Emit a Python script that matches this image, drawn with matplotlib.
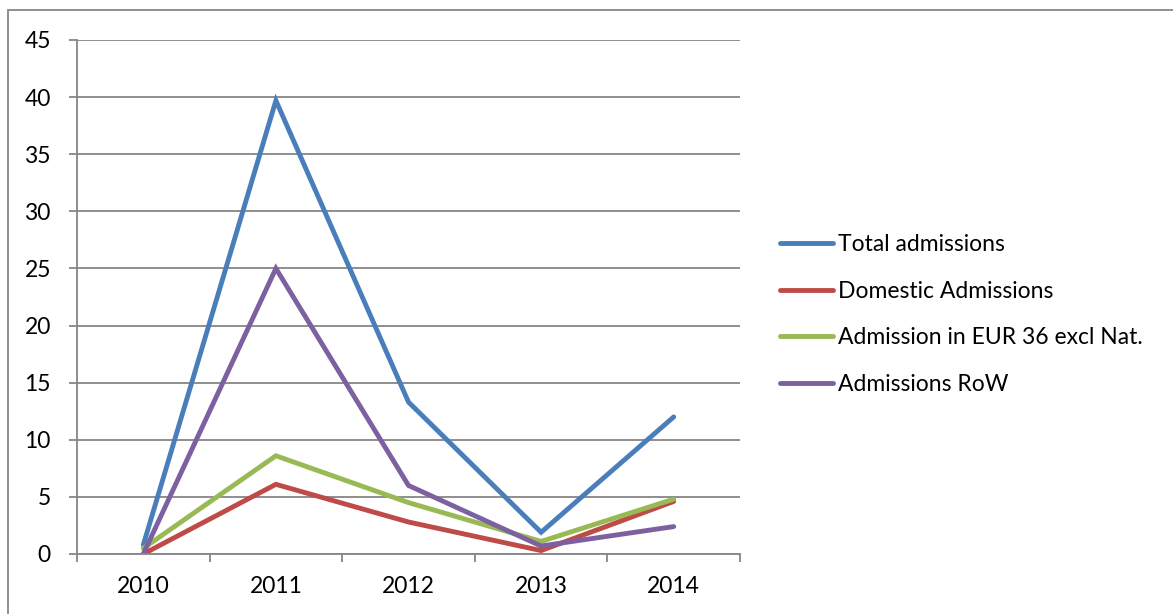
import matplotlib.pyplot as plt
from matplotlib.patches import Rectangle
import numpy as np

# Data
years = ['2010', '2011', '2012', '2013', '2014']
total_admissions = [0.8, 39.7, 13.3, 1.9, 12.0]
domestic_admissions = [0.0, 6.1, 2.8, 0.3, 4.6]
eur36_admissions = [0.5, 8.6, 4.5, 1.1, 4.8]
row_admissions = [0.0, 25.0, 6.0, 0.7, 2.4]

series_labels = ['Total admissions', 'Domestic Admissions',
                 'Admission in EUR 36 excl Nat.', 'Admissions RoW']
series_colors = ['#4A7EBB', '#BE4B48', '#98B954', '#7D60A0']

plt.rcParams['font.family'] = ['Lato', 'DejaVu Sans']
grey = '#868686'
fsize = 16.5

fig = plt.figure(figsize=(11.73, 6.14), dpi=100)
ax = fig.add_axes([77 / 1173, 60 / 614, 663 / 1173, 514 / 614])

x = np.arange(len(years))
for values, label, color in zip(
        [total_admissions, domestic_admissions, eur36_admissions, row_admissions],
        series_labels, series_colors):
    ax.plot(x, values, color=color, linewidth=3.5, label=label,
            solid_joinstyle='miter', solid_capstyle='round')

# Axis limits and ticks (Excel style category axis)
ax.set_xlim(-0.5, len(years) - 0.5)
ax.set_ylim(0, 45)
ax.set_yticks(np.arange(0, 46, 5))
ax.set_xticks(np.arange(-0.5, len(years), 1.0))
ax.set_xticklabels([])
ax.set_xticks(x, minor=True)
ax.set_xticklabels(years, minor=True)

ax.grid(axis='y', color=grey, linewidth=1.3)
ax.set_axisbelow(True)

for side in ['top', 'right']:
    ax.spines[side].set_visible(False)
for side in ['left', 'bottom']:
    ax.spines[side].set_color(grey)
    ax.spines[side].set_linewidth(1.3)

ax.tick_params(axis='y', which='major', direction='out', length=5.8, width=1.3,
               color=grey, pad=13, labelsize=fsize)
ax.tick_params(axis='x', which='major', direction='out', length=5.8, width=1.3,
               color=grey)
ax.tick_params(axis='x', which='minor', length=0, pad=16, labelsize=fsize)

# Legend on the right
ax.legend(loc='center left', bbox_to_anchor=(780 / 1173, 1 - 314.5 / 614),
          bbox_transform=fig.transFigure, frameon=False, fontsize=fsize,
          handlelength=2.3, handletextpad=0.22, labelspacing=1.12,
          borderpad=0, borderaxespad=0)

# Outer chart border
fig.patches.append(Rectangle((8 / 1173, -0.1), 1.5, 1.1 - 10 / 614,
                             transform=fig.transFigure, fill=False,
                             edgecolor=grey, linewidth=1.3))

fig.savefig('out.png', dpi=100)
